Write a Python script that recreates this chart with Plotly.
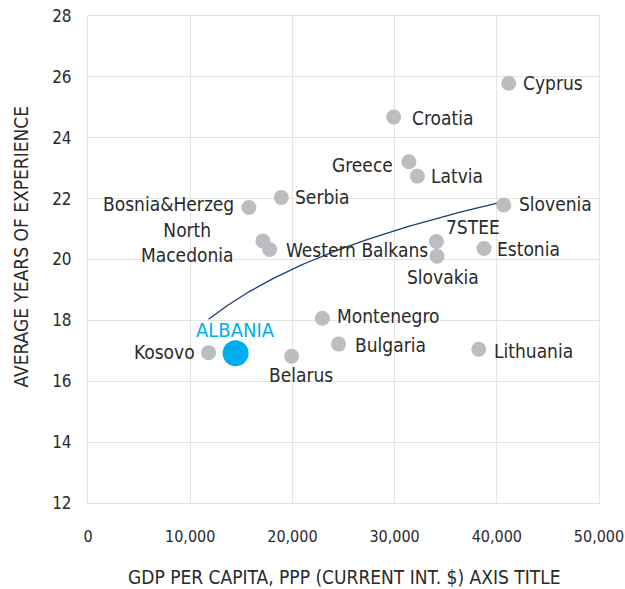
import numpy as np
import plotly.graph_objects as go

countries = ["Cyprus", "Croatia", "Greece", "Latvia", "Slovenia", "7STEE", "Slovakia",
             "Estonia", "Serbia", "Bosnia&Herzeg", "North<br>Macedonia", "Western Balkans",
             "Kosovo", "Belarus", "Montenegro", "Bulgaria", "Lithuania"]
gdp = [41170, 29910, 31400, 32230, 40680, 34090, 34150,
       38750, 18910, 15740, 17110, 17770,
       11800, 19920, 22930, 24520, 38230]
years = [25.79, 24.68, 23.21, 22.74, 21.79, 20.59, 20.11,
         20.36, 22.04, 21.71, 20.61, 20.33,
         16.94, 16.82, 18.07, 17.22, 17.05]

albania_name = ["ALBANIA"]
albania_gdp = [14440]
albania_years = [16.92]

x_ticks = [0, 10000, 20000, 30000, 40000, 50000]
y_ticks = [12, 14, 16, 18, 20, 22, 24, 26, 28]

# label placement (style): xshift, yshift, xanchor
label_style = {
    "Cyprus": (12, 0, "left"), "Croatia": (16, -1, "left"), "Greece": (-14, -3, "right"),
    "Latvia": (12, 0, "left"), "Slovenia": (13, 1, "left"), "7STEE": (8, 15, "left"),
    "Slovakia": (6, -21, "center"), "Estonia": (11, 0, "left"), "Serbia": (12, 0, "left"),
    "Bosnia&Herzeg": (-13, 3, "right"), "North<br>Macedonia": (-27, -2, "right"),
    "Western Balkans": (14, -1, "left"), "Kosovo": (-12, 1, "right"),
    "Belarus": (9, -19, "center"), "Montenegro": (13, 2, "left"), "Bulgaria": (14, -1, "left"),
    "Lithuania": (13, -2, "left"),
}

FONT = "DejaVu Sans Condensed, DejaVu Sans, sans-serif"
TXT = "#2a2a2a"
GRID = "#e4e4e4"
BLUE = "#00aeef"
GRAY = "#bcbdc1"

# logarithmic trend line fitted on all points
all_x = np.array(gdp + albania_gdp, dtype=float)
all_y = np.array(years + albania_years, dtype=float)
b, a = np.polyfit(np.log(all_x), all_y, 1)
tx = np.linspace(all_x.min(), all_x.max(), 200)
ty = a + b * np.log(tx)

fig = go.Figure()
fig.add_trace(go.Scatter(x=tx, y=ty, mode="lines", line=dict(color="#1b3f6b", width=1.3),
                         hoverinfo="skip", showlegend=False))
fig.add_trace(go.Scatter(x=gdp, y=years, mode="markers",
                         marker=dict(color=GRAY, size=15, line=dict(width=0)),
                         showlegend=False))
fig.add_trace(go.Scatter(x=albania_gdp, y=albania_years, mode="markers",
                         marker=dict(color=BLUE, size=26, line=dict(width=0)),
                         showlegend=False))

annotations = []
for name, xv, yv in zip(countries, gdp, years):
    xs, ys, xa = label_style[name]
    annotations.append(dict(x=xv, y=yv, xref="x", yref="y", text=name, showarrow=False,
                            xanchor=xa, yanchor="middle", xshift=xs, yshift=ys, align="center",
                            font=dict(family=FONT, size=19, color=TXT)))
annotations.append(dict(x=albania_gdp[0], y=albania_years[0], xref="x", yref="y",
                        text=albania_name[0], showarrow=False, xanchor="center",
                        yanchor="middle", yshift=23,
                        font=dict(family=FONT, size=20, color=BLUE)))
annotations.append(dict(text="GDP PER CAPITA, PPP (CURRENT INT. $) AXIS TITLE", xref="paper",
                        yref="paper", x=0.5, y=0, xanchor="center", yanchor="middle",
                        yshift=-74, showarrow=False,
                        font=dict(family=FONT, size=19, color=TXT)))
annotations.append(dict(text="AVERAGE YEARS OF EXPERIENCE", xref="paper", yref="paper",
                        x=0, y=0.5, xshift=-68, yshift=13, textangle=-90, showarrow=False,
                        xanchor="center", yanchor="middle",
                        font=dict(family=FONT, size=19, color=TXT)))

fig.update_layout(
    width=625, height=589,
    margin=dict(l=88, r=26, t=16, b=86, autoexpand=False),
    paper_bgcolor="white", plot_bgcolor="white",
    font=dict(family=FONT, size=18, color=TXT),
    annotations=annotations,
    xaxis=dict(range=[0, 50000], tickvals=x_ticks, tickformat=",", showgrid=True,
               gridcolor=GRID, gridwidth=1, zeroline=False, showline=True, linecolor=GRID,
               mirror=True, ticks="", ticklabelstandoff=19, automargin=False,
               ticklabeloverflow="allow",
               tickfont=dict(family=FONT, size=16, color=TXT)),
    yaxis=dict(range=[12, 28], tickvals=y_ticks, showgrid=True, gridcolor=GRID, gridwidth=1,
               zeroline=False, showline=True, linecolor=GRID, mirror=True, ticks="",
               ticklabelstandoff=12, automargin=False, ticklabeloverflow="allow",
               tickfont=dict(family=FONT, size=17, color=TXT)),
)
fig.write_html("out.html", config={"displayModeBar": False},
               post_script="document.body.style.margin='0px';document.body.style.overflow='hidden';")
